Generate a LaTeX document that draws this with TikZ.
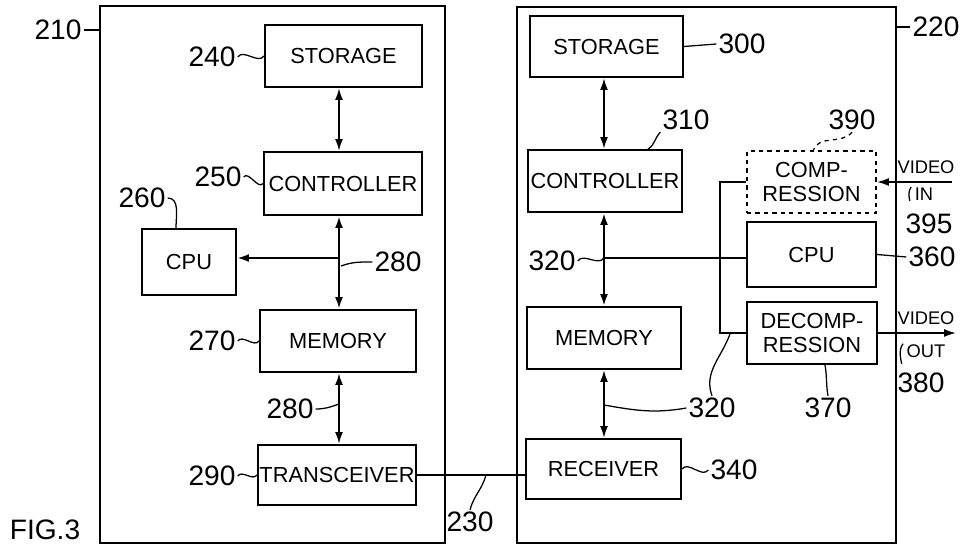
\documentclass[tikz,border=0pt]{standalone}
\usepackage{fontspec}
\setmainfont{Liberation Sans}
\usetikzlibrary{arrows.meta, positioning, calc}
\newcommand{\boxfont}{\fontsize{15.5}{17}\selectfont}
\newcommand{\numfont}{\fontsize{20}{22}\selectfont}
\newcommand{\vidfont}{\fontsize{13}{14}\selectfont}
\tikzset{
  every picture/.style={line width=1.2pt},
  blk/.style={draw, line width=1.4pt, inner sep=0pt, align=center, font=\boxfont},
  wd/.style={minimum width=#1*0.025cm},
  ht/.style={minimum height=#1*0.025cm},
  panel/.style={draw, line width=1.1pt, inner sep=0pt},
  num/.style={font=\numfont, inner sep=1pt},
  vid/.style={font=\vidfont, inner sep=0pt},
  lead/.style={line width=0.9pt},
  wig/.style={out=55, in=235},
  bus/.style={line width=1.8pt},
  arr/.style={-{Latex[length=3mm, width=2mm]}, line width=1.6pt},
  dbl/.style={{Latex[length=3mm, width=2mm]}-{Latex[length=3mm, width=2mm]}, line width=1.4pt},
}

\begin{document}
\begin{tikzpicture}[x=0.025cm, y=-0.025cm]
  \useasboundingbox (0,0) rectangle (962,552);
  % the two devices
  \node[panel, wd=345, ht=537] (dev210) at (272.5,274.5) {};
  \node[panel, wd=379, ht=536] (dev220) at (706.5,275) {};
  \node[num] (l210) at (58,30) {210};
  \draw[lead] (l210.east) -- (dev210.west |- l210.east);
  \node[num] (l220) at (936,27) {220};
  \draw[lead] (dev220.east |- l220.west) -- (l220.west);

  % sending side
  \node[blk, wd=157, ht=62] (sto240) at (343.5,56) {STORAGE};
  \node[blk, wd=158, ht=63] (ctl250) at (343,183.5) {CONTROLLER};
  \node[blk, wd=94, ht=66] (cpu260) at (189,262) {CPU};
  \node[blk, wd=156, ht=62] (mem270) at (338,341) {MEMORY};
  \node[blk, wd=158, ht=60] (trx290) at (337,475) {TRANSCEIVER};

  \coordinate (busL) at (339,258);
  \coordinate (busLa) at (341,266);
  \coordinate (busLb) at (339,404);
  \draw[dbl] (sto240.south -| busL) -- (ctl250.north -| busL);
  \draw[arr] (busL) -- (ctl250.south -| busL);
  \draw[arr] (busL) -- (mem270.north -| busL);
  \draw[arr] (busL) -- (cpu260.east |- busL);
  \draw[dbl] (mem270.south -| busL) -- (trx290.north -| busL);

  \node[num] (l240) at (212,57) {240};
  \draw[lead] (l240.east) to[wig] (sto240.west);
  \node[num] (l250) at (218,177) {250};
  \draw[lead] (l250.east) to[wig] (ctl250.west);
  \node[num] (l260) at (142,198) {260};
  \draw[lead] (l260.east) to[out=0, in=90] ($(cpu260.north)+(-13,0)$);
  \node[num] (l280a) at (398,262) {280};
  \draw[lead] (l280a.west) to[out=180, in=20] (busLa);
  \node[num] (l270) at (212,341) {270};
  \draw[lead] (l270.east) to[wig] (mem270.west);
  \node[num] (l280b) at (290,409) {280};
  \draw[lead] (l280b.east) to[out=0, in=200] (busLb);
  \node[num] (l290) at (212,476) {290};
  \draw[lead] (l290.east) to[wig] (trx290.west);

  % receiving side
  \node[blk, wd=153, ht=61] (sto300) at (606.5,46.5) {STORAGE};
  \node[blk, wd=154, ht=62] (ctl310) at (605,181) {CONTROLLER};
  \node[blk, wd=154, ht=62] (mem320) at (604,338) {MEMORY};
  \node[blk, wd=155, ht=60] (rcv340) at (603.5,469) {RECEIVER};
  \node[blk, dashed, wd=129, ht=62] (cmp390) at (811.5,182) {COMP-\\RESSION};
  \node[blk, wd=129, ht=65] (cpu360) at (811.5,254.5) {CPU};
  \node[blk, wd=130, ht=62] (dec370) at (812,333) {DECOMP-\\RESSION};

  \coordinate (busR) at (604,258);
  \coordinate (busRb) at (604,405);
  \coordinate (decTap) at (730,334);
  \draw[dbl] (sto300.south -| busR) -- (ctl310.north -| busR);
  \draw[arr] (busR) -- (ctl310.south -| busR);
  \draw[arr] (busR) -- (mem320.north -| busR);
  \draw[bus] (busR) -- (cpu360.west |- busR);
  \draw[dbl] (mem320.south -| busR) -- (rcv340.north -| busR);
  \draw[line width=1.4pt] (cmp390.west) -- ++(-26,0) |- (dec370.west);

  % link between the devices
  \coordinate (lnk) at (486,475);
  \draw[line width=1.3pt] (trx290.east) -- (rcv340.west |- trx290.east);
  \node[num] (l230) at (470,522) {230};
  \draw[lead] (l230.north) to[out=75, in=255] (lnk);

  \node[num] (l300) at (742,44) {300};
  \draw[lead] (sto300.east) -- (l300.west);
  \node[num] (l310) at (686,120) {310};
  \draw[lead] (l310.south west) to[out=225, in=30] ($(ctl310.north)+(43,0)$);
  \node[num] (l320a) at (552,261) {320};
  \draw[lead] (l320a.east) to[wig] (busR);
  \node[num] (l390) at (852,120) {390};
  \draw[lead, dashed] (l390.south) to[out=230, in=70] ($(cmp390.north)+(2,0)$);
  \node[num] (l360) at (932,257) {360};
  \draw[lead] (cpu360.east) -- (l360.west);
  \node[num] (l370) at (828,408) {370};
  \draw[lead] (l370.north) to[out=100, in=-80] ($(dec370.south)+(13,0)$);
  \node[num] (l320b) at (712,408) {320};
  \draw[lead] (busRb) to[out=-10, in=190] (l320b.west);
  \draw[lead] (l320b.north) to[out=110, in=250] (decTap);
  \node[num] (l340) at (734,470) {340};
  \draw[lead] (rcv340.east) to[wig] (l340.west);

  % video in and out
  \coordinate (vinEnd) at (952,182);
  \coordinate (voutEnd) at (956,333);
  \draw[arr, line width=1.2pt] (vinEnd) -- (cmp390.east);
  \draw[arr, line width=1.2pt] (dec370.east) -- (voutEnd);
  \node[vid] (vin) at (926,167) {VIDEO};
  \node[vid] (vinIn) at (924,194) {IN};
  \node[num] (l395) at (929,224) {395};
  \draw[lead] ([xshift=-2pt]vinIn.north west) to[out=235, in=100] ([xshift=-3pt]vinIn.south west);
  \node[vid] (vout) at (926,318) {VIDEO};
  \node[vid] (voutOut) at (926,351) {OUT};
  \node[num] (l380) at (921,383) {380};
  \draw[lead] ([xshift=-2pt]voutOut.north west) to[out=235, in=100] ([xshift=-3pt,yshift=-4pt]voutOut.south west);

  \node[num] (fig) at (45,530) {FIG.3};
\end{tikzpicture}
\end{document}
